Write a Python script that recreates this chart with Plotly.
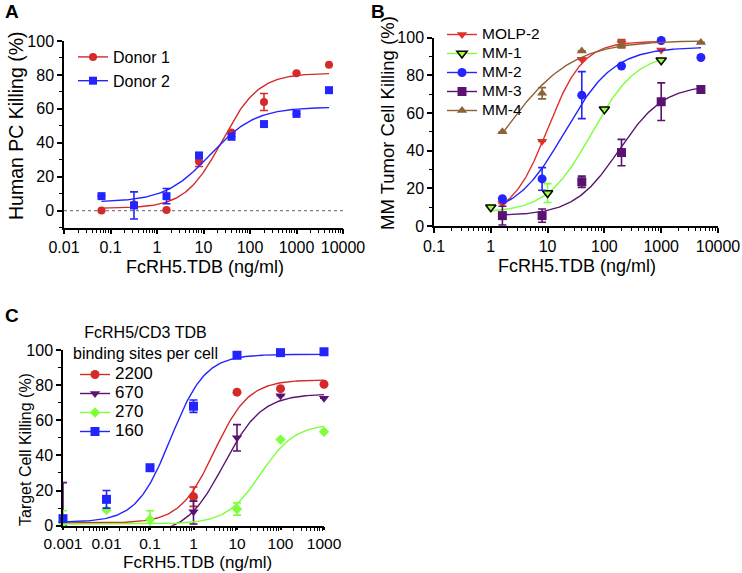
import numpy as np
import plotly.graph_objects as go

# ---------------- Panel A data ----------------
A_x = [0.064, 0.32, 1.6, 8, 40, 200, 1000, 5000]
A_donor1 = [0, 3.5, 0.3, 29, 46, 64, 81, 86]
A_donor1_err = [0, 0, 0, 3, 0, 5, 0, 0]
A_donor2 = [8.5, 3, 8.5, 32.5, 43.5, 51, 57, 71]
A_donor2_err = [0, 8, 4.5, 0, 0, 0, 0, 0]
# 4PL fit parameters: bottom, top, EC50, hill
A_fit_donor1 = [1.3, 81, 25, 1.1]
A_fit_donor2 = [5, 61, 14, 0.9]

# ---------------- Panel B data ----------------
B_molp2_x = [1.6, 8, 40, 200, 1000]
B_molp2 = [12, 45, 88.5, 97, 93.5]
B_molp2_err = [0, 0, 0, 2, 0]
B_mm1_x = [1, 10, 100, 1000]
B_mm1 = [10, 17.5, 62, 88]
B_mm1_err = [0, 5, 0, 0]
B_mm2_x = [1.6, 8, 40, 200, 1000, 5000]
B_mm2 = [14.5, 25, 69.5, 85, 98.5, 89.5]
B_mm2_err = [0, 6, 12.5, 0, 0, 0]
B_mm3_x = [1.6, 8, 40, 200, 1000, 5000]
B_mm3 = [5.5, 5.5, 23.5, 39, 66, 72.5]
B_mm3_err = [5, 3.5, 3, 7, 10, 2]
B_mm4_x = [1.6, 8, 40, 200, 5000]
B_mm4 = [50, 70.5, 93, 96.5, 97.5]
B_mm4_err = [0, 3, 0, 2, 0]
B_fit_molp2 = [5, 98, 10, 1.4]
B_fit_mm1 = [7, 92, 60, 1.1]
B_fit_mm2 = [5, 95, 20, 1.0]
B_fit_mm3 = [5.5, 75, 180, 1.1]
B_fit_mm4 = [0, 98.5, 1.6, 0.72]

# ---------------- Panel C data ----------------
C_2200_x = [1, 10, 100, 1000]
C_2200 = [16.5, 76, 78, 80.5]
C_2200_err = [5.5, 0, 0, 0]
C_670_x = [0.001, 1, 10, 100, 1000]
C_670 = [1, 8, 50, 74, 72.5]
C_670_err_plus = [23.5, 6, 7.5, 0, 0]
C_670_err_minus = [1, 7, 7.5, 0, 0]
C_270_x = [0.001, 0.01, 0.1, 10, 100, 1000]
C_270 = [1.5, 9, 3.5, 9.5, 49, 53.5]
C_270_err = [7, 0, 5, 3.5, 0, 0]
C_160_x = [0.001, 0.01, 0.1, 1, 10, 100, 1000]
C_160 = [4, 15, 33, 68, 97, 98.5, 99]
C_160_err = [0, 5, 0, 3.5, 0, 0, 0]
C_fit_2200 = [1.5, 83, 3, 1.1]
C_fit_670 = [-5, 75, 5, 1.0]
C_fit_270 = [1, 58, 35, 1.1]
C_fit_160 = [2, 97.5, 0.3, 1.1]

# tick labels
A_ticks = [0.01, 0.1, 1, 10, 100, 1000, 10000]
B_ticks = [0.1, 1, 10, 100, 1000, 10000]
C_ticks = [0.001, 0.01, 0.1, 1, 10, 100, 1000]
Y_ticks = [0, 20, 40, 60, 80, 100]

FONT = "Liberation Sans, Arial, sans-serif"
W, H = 742, 573


def fourpl(params, xmin, xmax):
    b, t, ec, h = params
    xs = np.logspace(np.log10(xmin), np.log10(xmax), 200)
    return xs, b + (t - b) / (1 + (ec / xs) ** h)


def fmt(v):
    return ("%g" % v) if v < 10000 else "10000"


fig = go.Figure()


def add_series(name, x, y, err, fit, xmin, xmax, color, symbol, size, axis, legend, lsize,
               fill=None, edge=None, err_minus=None):
    xa, ya = axis
    fx, fy = fourpl(fit, xmin, xmax)
    mcolor = fill if fill else color
    mline = dict(color=edge if edge else mcolor, width=1.5 if edge else 0)
    fig.add_trace(go.Scatter(x=fx, y=fy, mode="lines", line=dict(color=color, width=1.4),
                             xaxis=xa, yaxis=ya, showlegend=False, hoverinfo="skip"))
    ey = dict(type="data", array=err, color=color, thickness=1.6, width=4, visible=True)
    if err_minus is not None:
        ey["symmetric"] = False
        ey["arrayminus"] = err_minus
    fig.add_trace(go.Scatter(x=x, y=y, mode="markers", name=name,
                             marker=dict(color=mcolor, symbol=symbol, size=size, line=mline),
                             error_y=ey, xaxis=xa, yaxis=ya, showlegend=False,
                             cliponaxis=False))
    label = '<span style="font-size:%gpx">%s</span>' % (lsize, name)
    fig.add_trace(go.Scatter(x=[None], y=[None], mode="lines+markers", name=label,
                             marker=dict(color=mcolor, symbol=symbol, size=size, line=mline),
                             line=dict(color=color, width=1.4),
                             xaxis=xa, yaxis=ya, legend=legend))


RED = "#d42a2a"
BLUE = "#2424ff"
PURPLE = "#5a1470"
GREEN = "#7dff3a"
BROWN = "#8c6239"

add_series("Donor 1", A_x, A_donor1, A_donor1_err, A_fit_donor1, 0.064, 5000, RED, "circle", 8,
           ("x", "y"), "legend", 16)
add_series("Donor 2", A_x, A_donor2, A_donor2_err, A_fit_donor2, 0.064, 5000, BLUE, "square", 8,
           ("x", "y"), "legend", 16)

add_series("MOLP-2", B_molp2_x, B_molp2, B_molp2_err, B_fit_molp2, 1.6, 1000, "#e0302a",
           "triangle-down", 9, ("x2", "y2"), "legend2", 15.5)
add_series("MM-1", B_mm1_x, B_mm1, B_mm1_err, B_fit_mm1, 1, 1000, GREEN,
           "triangle-down", 9, ("x2", "y2"), "legend2", 15.5, fill="#9cff3a", edge="#000000")
add_series("MM-2", B_mm2_x, B_mm2, B_mm2_err, B_fit_mm2, 1.6, 5000, BLUE,
           "circle", 9, ("x2", "y2"), "legend2", 15.5)
add_series("MM-3", B_mm3_x, B_mm3, B_mm3_err, B_fit_mm3, 1.6, 5000, PURPLE,
           "square", 9, ("x2", "y2"), "legend2", 15.5)
add_series("MM-4", B_mm4_x, B_mm4, B_mm4_err, B_fit_mm4, 1.6, 5000, BROWN,
           "triangle-up", 9, ("x2", "y2"), "legend2", 15.5)

add_series("2200", C_2200_x, C_2200, C_2200_err, C_fit_2200, 0.001, 1000, RED,
           "circle", 9, ("x3", "y3"), "legend3", 17)
add_series("670", C_670_x, C_670, C_670_err_plus, C_fit_670, 0.001, 1000, PURPLE,
           "triangle-down", 9, ("x3", "y3"), "legend3", 17, err_minus=C_670_err_minus)
add_series("270", C_270_x, C_270, C_270_err, C_fit_270, 0.001, 1000, GREEN,
           "diamond", 8, ("x3", "y3"), "legend3", 17)
add_series("160", C_160_x, C_160, C_160_err, C_fit_160, 0.001, 1000, BLUE,
           "square", 9, ("x3", "y3"), "legend3", 17)


def dom_x(p0, p1):
    return [p0 / W, p1 / W]


def dom_y(ptop, pbot):
    return [1 - pbot / H, 1 - ptop / H]


def minor_vals(lo, hi):
    out = []
    for d in range(lo, hi):
        for k in range(2, 10):
            out.append(k * 10.0 ** d)
    return out


def xaxis_cfg(domain, anchor, ticks, lo, hi, tlen=5, fsize=16):
    return dict(type="log", domain=domain, anchor=anchor, range=[lo, hi], automargin=False,
                tickmode="array", tickvals=ticks, ticktext=[fmt(t) for t in ticks],
                ticks="outside", ticklen=tlen, tickwidth=1.5, tickcolor="black",
                showline=True, linecolor="black", linewidth=1.5, showgrid=False, zeroline=False,
                minor=dict(tickvals=minor_vals(lo, hi), ticks="outside", ticklen=3.5,
                           tickwidth=1.2, tickcolor="black", showgrid=False),
                tickfont=dict(size=fsize, color="black", family=FONT))


def yaxis_cfg(domain, anchor, rng, minors):
    return dict(domain=domain, anchor=anchor, range=rng, automargin=False,
                tickmode="array", tickvals=Y_ticks,
                ticks="outside", ticklen=5, tickwidth=1.5, tickcolor="black",
                showline=True, linecolor="black", linewidth=1.5, showgrid=False, zeroline=False,
                minor=dict(tickvals=minors, ticks="outside", ticklen=3, tickwidth=1.2,
                           tickcolor="black", showgrid=False),
                tickfont=dict(size=16, color="black", family=FONT))


def txt(text, cx, cy, size, angle=0, bold=False, anchor="center", align="center"):
    return dict(text=("<b>%s</b>" % text) if bold else text, x=cx / W, y=1 - cy / H,
                xref="paper", yref="paper", xanchor=anchor, yanchor="middle",
                showarrow=False, textangle=angle, align=align,
                font=dict(size=size, family=FONT, color="black"))


XTITLE = "FcRH5.TDB (ng/ml)"

fig.update_layout(
    width=W, height=H, margin=dict(l=0, r=0, t=0, b=0, autoexpand=False),
    plot_bgcolor="white", paper_bgcolor="white",
    font=dict(family=FONT, color="black"),
    xaxis=xaxis_cfg(dom_x(64, 343), "y", A_ticks, -2, 4),
    yaxis=yaxis_cfg(dom_y(41, 227.5), "x", [-10, 100], [-10, 10, 30, 50, 70, 90]),
    xaxis2=xaxis_cfg(dom_x(434, 718), "y2", B_ticks, -1, 4),
    yaxis2=yaxis_cfg(dom_y(37.7, 226), "x2", [0, 100], [10, 30, 50, 70, 90]),
    xaxis3=xaxis_cfg(dom_x(63, 324), "y3", C_ticks, -3, 3, tlen=3, fsize=15.5),
    yaxis3=yaxis_cfg(dom_y(350, 525.7), "x3", [0, 100], [10, 30, 50, 70, 90]),
    legend=dict(x=73 / W, y=1 - 40 / H, xanchor="left", yanchor="top", bgcolor="rgba(0,0,0,0)",
                font=dict(size=16, family=FONT, color="black"), itemwidth=30,
                traceorder="normal", tracegroupgap=0),
    legend2=dict(x=442 / W, y=1 - 20 / H, xanchor="left", yanchor="top", bgcolor="rgba(0,0,0,0)",
                 font=dict(size=12, family=FONT, color="black"), itemwidth=30, tracegroupgap=0,
                 traceorder="normal"),
    legend3=dict(x=75 / W, y=1 - 360 / H, xanchor="left", yanchor="top", bgcolor="rgba(0,0,0,0)",
                 font=dict(size=12, family=FONT, color="black"), itemwidth=30, tracegroupgap=0,
                 traceorder="normal"),
    shapes=[dict(type="line", xref="x domain", yref="y", x0=0, x1=1, y0=0, y1=0,
                 line=dict(color="#808080", width=1.3, dash="dot"), layer="below")],
    annotations=[
        txt("A", 3, 11, 19, bold=True, anchor="left"),
        txt("B", 369, 11, 19, bold=True, anchor="left"),
        txt("C", 3, 315, 19, bold=True, anchor="left"),
        txt("Human PC Killing (%)", 16, 126, 19.5, angle=-90),
        txt(XTITLE, 204.5, 266.5, 18),
        txt("MM Tumor Cell Killing (%)", 388, 123, 18.5, angle=-90),
        txt(XTITLE, 577, 266, 18),
        txt("Target Cell Killing (%)", 25, 450, 16, angle=-90),
        txt(XTITLE, 197, 562.5, 17),
        txt("FcRH5/CD3 TDB<br>binding sites per cell", 145, 342.5, 16),
    ],
)

fig.write_html("out.html", config={"displayModeBar": False},
               post_script="document.body.style.margin='0px';"
                           "document.body.style.overflow='hidden';")
